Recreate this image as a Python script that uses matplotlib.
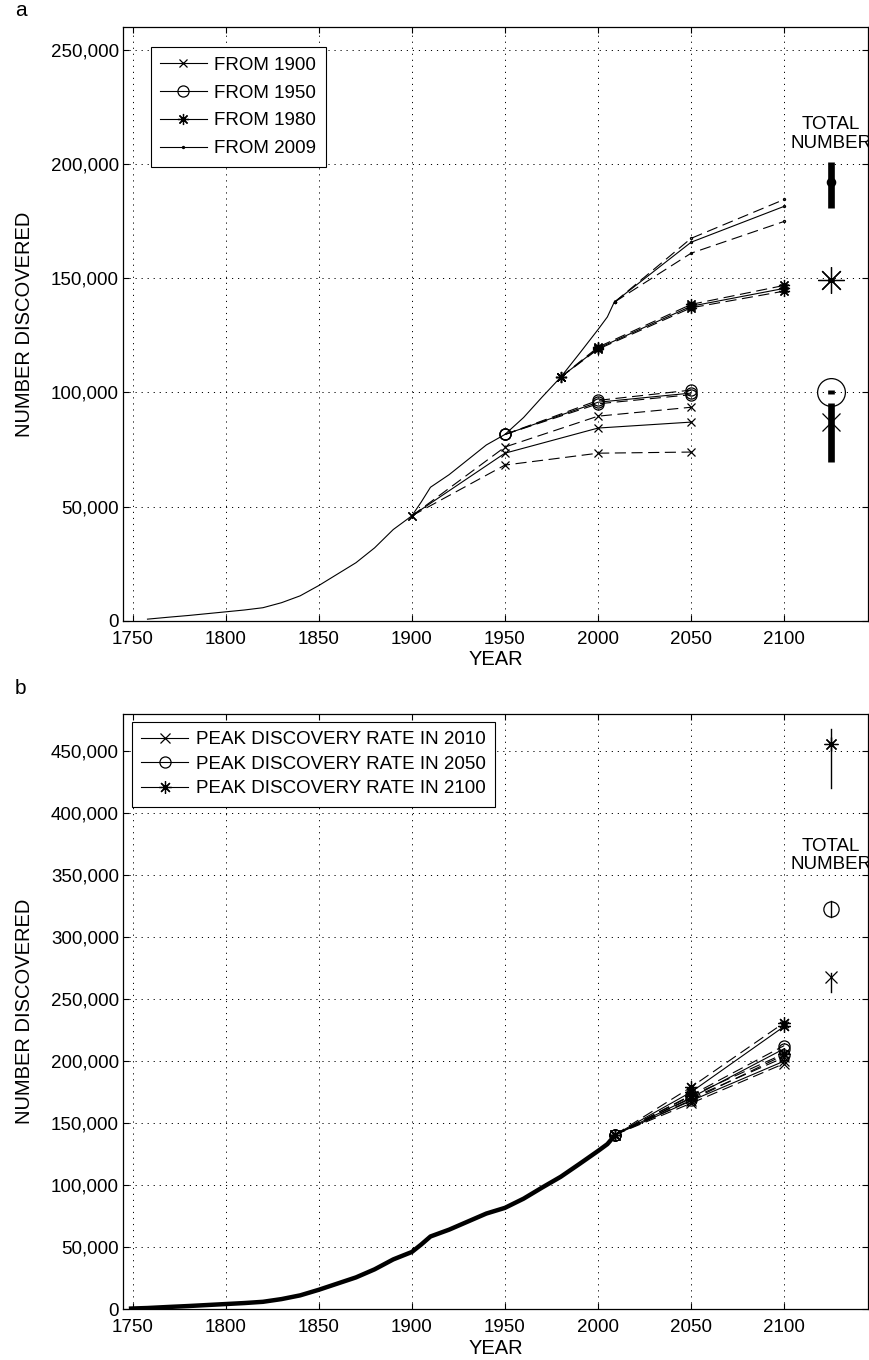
import matplotlib
matplotlib.use('Agg')
import matplotlib.pyplot as plt
from matplotlib.ticker import FuncFormatter, MultipleLocator

plt.rcParams['font.family'] = ['Liberation Sans', 'DejaVu Sans']

# ---- history of discoveries (shared by both panels) ----
hist_years = [1748, 1758, 1770, 1780, 1790, 1800, 1810, 1820, 1830, 1840, 1850,
              1860, 1870, 1880, 1890, 1900, 1905, 1910, 1920, 1930, 1940, 1950,
              1960, 1970, 1980, 1990, 2000, 2005, 2009]
hist_counts = [300, 800, 1700, 2400, 3200, 4000, 4800, 5800, 8000, 11000, 15500,
               20500, 25500, 32000, 40000, 46000, 52000, 58500, 64000, 70500, 77000, 81600,
               89000, 98000, 106700, 117000, 127500, 133000, 140000]

# ---- panel a: projections started from different years ----
years_1900 = [1900, 1950, 2000, 2050]
from1900_mid = [46000, 73400, 84400, 87000]
from1900_hi = [46000, 76100, 89600, 93500]
from1900_lo = [46000, 68200, 73400, 73900]

years_1950 = [1950, 2000, 2050]
from1950_mid = [81600, 95700, 99700]
from1950_hi = [81600, 96500, 101000]
from1950_lo = [81600, 95000, 99000]

years_1980 = [1980, 2000, 2050, 2100]
from1980_mid = [106700, 119300, 137700, 145500]
from1980_hi = [106700, 119800, 138500, 146800]
from1980_lo = [106700, 118900, 137000, 144300]

years_2009 = [2009, 2050, 2100]
from2009_mid = [139600, 165700, 181400]
from2009_hi = [139600, 167400, 184400]
from2009_lo = [139600, 160900, 174800]

labels_a = ['FROM 1900', 'FROM 1950', 'FROM 1980', 'FROM 2009']

# total number estimates (x, o, *, .)
total_year = 2125
total_a_mid = [87100, 100200, 149100, 191900]
total_a_lo = [69600, 99500, 148300, 180500]
total_a_hi = [95200, 101000, 150000, 200600]

# ---- panel b: peak discovery rate scenarios ----
peak_years = [2009, 2050, 2100]
peak2010_mid = [140500, 168000, 200000]
peak2010_hi = [140500, 170000, 203000]
peak2010_lo = [140500, 166000, 198000]
peak2050_mid = [140500, 170500, 210000]
peak2050_hi = [140500, 172500, 212500]
peak2050_lo = [140500, 168500, 205000]
peak2100_mid = [140500, 175000, 228000]
peak2100_hi = [140500, 179000, 231000]
peak2100_lo = [140500, 172000, 206000]

labels_b = ['PEAK DISCOVERY RATE IN 2010', 'PEAK DISCOVERY RATE IN 2050',
            'PEAK DISCOVERY RATE IN 2100']

total_b_mid = [268000, 323000, 456000]
total_b_lo = [256000, 316000, 420000]
total_b_hi = [271000, 329000, 468000]

ASTER = (8, 2, 0)  # matlab style '*'
FS = 13.5


def style_axes(ax, ymax, ylabel_ticks):
    ax.set_xlim(1745, 2145)
    ax.set_ylim(0, ymax)
    ax.xaxis.set_major_locator(MultipleLocator(50))
    ax.set_xticks(range(1750, 2101, 50))
    ax.set_yticks(ylabel_ticks)
    ax.yaxis.set_major_formatter(FuncFormatter(lambda v, p: f'{int(v):,}'))
    ax.tick_params(direction='in', top=True, right=True, length=4, width=0.8,
                   labelsize=FS, pad=3)
    ax.tick_params(axis='x', pad=7)
    ax.grid(True, color='black', linestyle=(0, (1.2, 5)), linewidth=0.7)
    for s in ax.spines.values():
        s.set_linewidth(0.9)
    ax.set_xlabel('YEAR', fontsize=14.5, labelpad=2)
    ax.set_ylabel('NUMBER DISCOVERED', fontsize=14.5, labelpad=12)


def draw_scenario(ax, years, mid, hi, lo, marker, ms, lw=0.8):
    line, = ax.plot(years, mid, color='black', lw=lw, marker=marker, ms=ms,
                    mfc='none', mec='black', mew=0.9)
    for d in (hi, lo):
        ax.plot(years, d, color='black', lw=0.8, dashes=(10, 5), marker=marker, ms=ms,
                mfc='none', mec='black', mew=0.9)
    return line


fig = plt.figure(figsize=(8.7, 13.6), dpi=100)

# ================= panel a =================
ax = fig.add_axes([0.1417, 0.5434, 0.856, 0.437])
style_axes(ax, 260000, range(0, 250001, 50000))

ax.plot([y for y in hist_years if y >= 1758], hist_counts[1:], color='black', lw=0.8)
h1 = draw_scenario(ax, years_1900, from1900_mid, from1900_hi, from1900_lo, 'x', 5.5)
h2 = draw_scenario(ax, years_1950, from1950_mid, from1950_hi, from1950_lo, 'o', 8)
h3 = draw_scenario(ax, years_1980, from1980_mid, from1980_hi, from1980_lo, ASTER, 8)
h4 = draw_scenario(ax, years_2009, from2009_mid, from2009_hi, from2009_lo, '.', 3)

# total number: thick bars + big markers
big_markers_a = ['x', 'o', ASTER, 'o']
big_ms_a = [13, 20, 19, 6]
for i in range(len(total_a_mid)):
    ax.plot([total_year, total_year], [total_a_lo[i], total_a_hi[i]], color='black',
            lw=4.8, solid_capstyle='butt')
    face = 'black' if i == 3 else 'none'
    ax.plot(total_year, total_a_mid[i], marker=big_markers_a[i], ms=big_ms_a[i],
            mfc=face, mec='black', mew=0.9, ls='none')
ax.text(total_year, 213000, 'TOTAL\nNUMBER', ha='center', va='center', fontsize=FS,
        linespacing=1.1)

leg = ax.legend([h1, h2, h3, h4], labels_a, loc='upper left', bbox_to_anchor=(0.0368, 0.9653),
                borderaxespad=0, fontsize=FS, handlelength=2.5, handletextpad=0.4,
                labelspacing=0.57, borderpad=0.5, fancybox=False, framealpha=1)
leg.get_frame().set_edgecolor('black')
leg.get_frame().set_linewidth(0.8)

fig.text(0.017, 0.992, 'a', fontsize=15, va='center')

# ================= panel b =================
ax = fig.add_axes([0.1417, 0.0375, 0.856, 0.4375])
style_axes(ax, 480000, range(0, 450001, 50000))

ax.plot(hist_years, hist_counts, color='black', lw=3.2, solid_capstyle='butt')
g1 = draw_scenario(ax, peak_years, peak2010_mid, peak2010_hi, peak2010_lo, 'x', 7)
g2 = draw_scenario(ax, peak_years, peak2050_mid, peak2050_hi, peak2050_lo, 'o', 8)
g3 = draw_scenario(ax, peak_years, peak2100_mid, peak2100_hi, peak2100_lo, ASTER, 9)

big_markers_b = ['x', 'o', ASTER]
big_ms_b = [9, 11, 10]
for i in range(len(total_b_mid)):
    ax.plot([total_year, total_year], [total_b_lo[i], total_b_hi[i]], color='black', lw=1)
    ax.plot(total_year, total_b_mid[i], marker=big_markers_b[i], ms=big_ms_b[i],
            mfc='none', mec='black', mew=0.9, ls='none')
ax.text(total_year, 366000, 'TOTAL\nNUMBER', ha='center', va='center', fontsize=FS,
        linespacing=1.1)

leg = ax.legend([g1, g2, g3], labels_b, loc='upper left', bbox_to_anchor=(0.0117, 0.9866),
                borderaxespad=0, fontsize=FS, handlelength=2.5, handletextpad=0.4,
                labelspacing=0.39, borderpad=0.5, fancybox=False, framealpha=1)
leg.get_frame().set_edgecolor('black')
leg.get_frame().set_linewidth(0.8)

fig.text(0.017, 0.494, 'b', fontsize=15, va='center')

plt.savefig('out.png', dpi=100)
